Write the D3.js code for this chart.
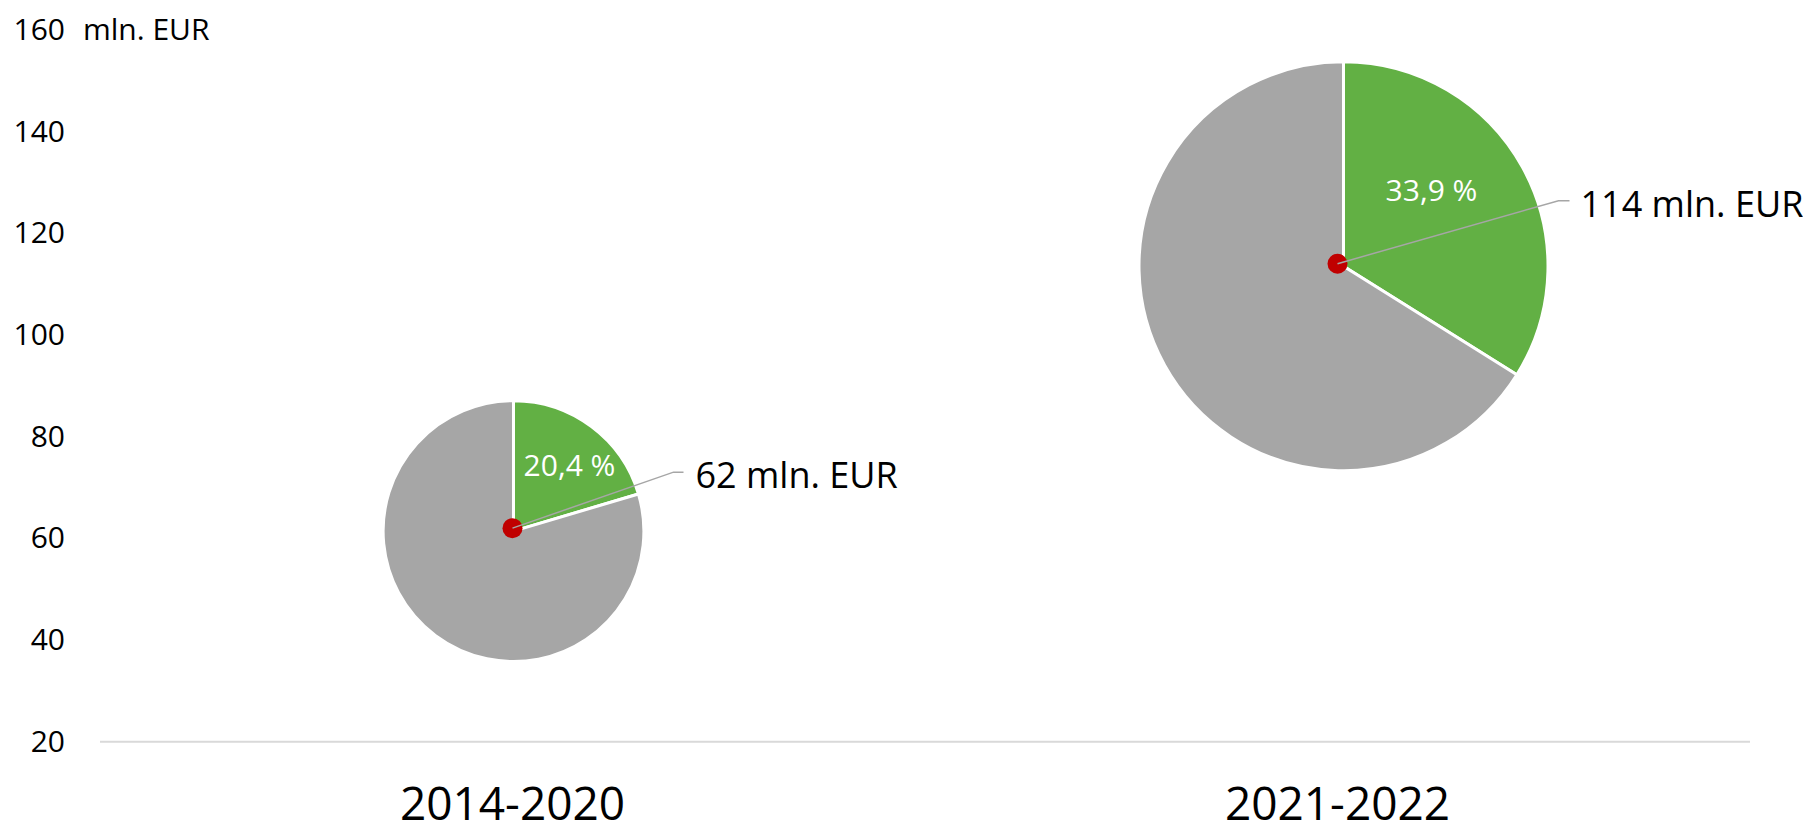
<!DOCTYPE html>
<html>
<head>
<meta charset="utf-8">
<script src="https://cdn.jsdelivr.net/npm/d3@7"></script>
<style>
  html, body { margin: 0; padding: 0; background: #ffffff; }
  svg { display: block; font-family: "Open Sans", "Noto Sans", sans-serif; }
</style>
</head>
<body>
<svg id="chart" width="1803" height="833"></svg>
<script>
// ---- data ----
const categories = ["2014-2020", "2021-2022"];
const values = [62, 114];                 // mln. EUR (bubble y position)
const shares = [20.4, 33.9];              // % share (green slice)
const bubbleSizes = [100, 246];           // relative bubble size
const valueLabels = ["62 mln. EUR", "114 mln. EUR"];
const shareLabels = ["20,4 %", "33,9 %"];
const yTicks = [20, 40, 60, 80, 100, 120, 140, 160];
const unitLabel = "mln. EUR";

// ---- layout / style ----
const W = 1803, H = 833;
const plot = { left: 100, right: 1750, top: 29.8, bottom: 741.7 };
const colors = { share: "#62B044", rest: "#A6A6A6", dot: "#C00000", grid: "#D9D9D9", leader: "#A6A6A6" };
// small rendering offset of the pie picture relative to its data point
const pieNudge = [[1, 3], [6, 2.5]];
// leader-line elbow / label anchor, relative to the bubble point
const leaderLayout = [
  { elbow: [161, -56], end: [171, -56], label: [183, -40] },
  { elbow: [221, -63], end: [232, -63], label: [243, -47] }
];
// percentage label centre, relative to pie centre
const shareLabelLayout = [[56, -66], [88, -76]];

const svg = d3.select("#chart");

const x = d3.scaleBand().domain(categories).range([plot.left, plot.right]);
const y = d3.scaleLinear().domain([20, 160]).range([plot.bottom, plot.top]);
const r = d3.scaleSqrt().domain([0, d3.max(bubbleSizes)]).range([0, 204.5]);

// y axis (labels only)
const yAxis = svg.append("g")
  .attr("transform", `translate(${plot.left},0)`)
  .call(d3.axisLeft(y).tickValues(yTicks).tickSize(0).tickPadding(35).tickFormat(d3.format("d")));
yAxis.select(".domain").remove();
yAxis.selectAll("text")
  .attr("font-size", 30)
  .attr("font-family", "'Open Sans', sans-serif")
  .attr("fill", "#000");

// unit label next to top tick
svg.append("text")
  .attr("x", 83)
  .attr("y", y(160))
  .attr("dy", "0.35em")
  .attr("font-size", 30)
  .attr("fill", "#000")
  .text(unitLabel);

// baseline grid line
svg.append("line")
  .attr("x1", plot.left).attr("x2", plot.right)
  .attr("y1", y(20)).attr("y2", y(20))
  .attr("stroke", colors.grid).attr("stroke-width", 2);

// category axis
const xAxis = svg.append("g")
  .attr("transform", `translate(0,${y(20)})`)
  .call(d3.axisBottom(x).tickSize(0).tickPadding(0));
xAxis.select(".domain").remove();
xAxis.selectAll("text")
  .attr("y", 78)
  .attr("dy", null)
  .attr("font-size", 46)
  .attr("font-family", "'Open Sans', sans-serif")
  .attr("fill", "#000");

// pies
const pie = d3.pie().sort(null).value(d => d);
const data = categories.map((c, i) => ({
  cat: c, value: values[i], share: shares[i], size: bubbleSizes[i],
  cx: x(c) + x.bandwidth() / 2, cy: y(values[i]), i
}));

const bubbles = svg.append("g").selectAll("g.bubble").data(data).join("g")
  .attr("class", "bubble")
  .attr("transform", d => `translate(${d.cx},${d.cy})`);

bubbles.each(function (d) {
  const g = d3.select(this);
  const arc = d3.arc().innerRadius(0).outerRadius(r(d.size));
  const nudge = pieNudge[d.i];
  const pg = g.append("g").attr("transform", `translate(${nudge[0]},${nudge[1]})`);
  pg.selectAll("path.slice")
    .data(pie([d.share, 100 - d.share]))
    .join("path")
    .attr("class", "slice")
    .attr("d", arc)
    .attr("fill", (p, k) => k === 0 ? colors.share : colors.rest)
    .attr("stroke", "#ffffff")
    .attr("stroke-width", 3)
    .attr("stroke-linejoin", "round");

  // share label
  const sl = shareLabelLayout[d.i];
  pg.append("text")
    .attr("x", sl[0]).attr("y", sl[1])
    .attr("dy", "0.35em")
    .attr("text-anchor", "middle")
    .attr("font-size", 30)
    .attr("fill", "#ffffff")
    .text(shareLabels[d.i]);

  // red point
  g.append("circle").attr("r", 10).attr("fill", colors.dot);

  // leader line
  const L = leaderLayout[d.i];
  g.append("path")
    .attr("d", d3.line()([[0, 0], L.elbow, L.end]))
    .attr("fill", "none")
    .attr("stroke", colors.leader)
    .attr("stroke-width", 1.5);

  // value label
  g.append("text")
    .attr("x", L.label[0]).attr("y", L.label[1])
    .attr("font-size", 36)
    .attr("fill", "#000")
    .text(valueLabels[d.i]);
});
</script>
</body>
</html>
